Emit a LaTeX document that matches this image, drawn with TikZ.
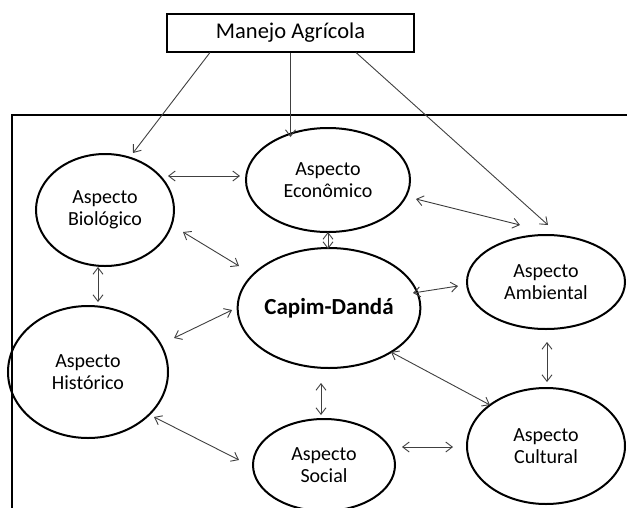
\documentclass[tikz,border=0pt]{standalone}
\usepackage{fontspec}
\setmainfont{Carlito}
\usetikzlibrary{shapes.geometric,arrows.meta}
\begin{document}
\begin{tikzpicture}[x=1pt,y=-1pt,
  asp/.style={ellipse, draw, line width=2pt, inner sep=0pt, align=center,
    font=\fontsize{20}{22.5}\selectfont},
  topbox/.style={draw, line width=2pt, inner sep=0pt,
    font=\fontsize{22.5}{26}\selectfont},
  tipb/.tip={Straight Barb[length=6.5pt,width=10pt]},
  link/.style={draw=black!75, line width=0.9pt, tipb-tipb},
  feed/.style={draw=black!75, line width=0.9pt, -tipb}]
\clip (0,0) rectangle (627,507);
\fill[white] (0,0) rectangle (627,507);
% frame
\draw[line width=2pt] (12,540) -- (12,115) -- (660,115);
% nodes
\node[topbox, minimum width=247pt, minimum height=38pt] (man) at (290.5,32.5) {Manejo Agrícola};
\node[asp, minimum width=138pt, minimum height=112pt] (bio) at (105,210) {Aspecto\\Biológico};
\node[asp, minimum width=164pt, minimum height=104pt] (eco) at (328,180) {Aspecto\\Econômico};
\node[asp, minimum width=172pt, minimum height=120pt, font=\bfseries\fontsize{23}{26}\selectfont] (cap) at (329,308) {Capim-Dandá};
\node[asp, minimum width=158pt, minimum height=94pt] (amb) at (546,282) {Aspecto\\Ambiental};
\node[asp, minimum width=160pt, minimum height=132pt] (his) at (88,372) {Aspecto\\Histórico};
\node[asp, minimum width=142pt, minimum height=92pt] (soc) at (324,465) {Aspecto\\Social};
\node[asp, minimum width=158pt, minimum height=116pt] (cul) at (546,446) {Aspecto\\Cultural};
% arrow end points
\coordinate (mb) at (133,153);
\coordinate (me) at (290.5,137);
\coordinate (ma) at (548,225);
\coordinate (be1) at (168,176);  \coordinate (be2) at (240,176);
\coordinate (ea1) at (416,199);  \coordinate (ea2) at (520,225);
\coordinate (ec1) at (328,232);  \coordinate (ec2) at (328,249);
\coordinate (bc1) at (183,232);  \coordinate (bc2) at (239,266);
\coordinate (bh1) at (98,267);   \coordinate (bh2) at (98,302);
\coordinate (hc1) at (174,338);  \coordinate (hc2) at (232,310);
\coordinate (ca1) at (413,293);  \coordinate (ca2) at (458,286);
\coordinate (ac1) at (547,342);  \coordinate (ac2) at (547,382);
\coordinate (cc1) at (391,352);  \coordinate (cc2) at (490,405);
\coordinate (cs1) at (321,383);  \coordinate (cs2) at (321,415);
\coordinate (hs1) at (154,417);  \coordinate (hs2) at (239,460);
\coordinate (sc1) at (402,447);  \coordinate (sc2) at (453,447);
% connectors from Manejo Agrícola
\draw[feed] ([xshift=-80.5pt]man.south) -- (mb);
\draw[feed] (man.south) -- (me);
\draw[feed] ([xshift=65.5pt]man.south) -- (ma);
% two-way connectors
\draw[link] (be1) -- (be2);
\draw[link] (ea1) -- (ea2);
\draw[link] (ec1) -- (ec2);
\draw[link] (bc1) -- (bc2);
\draw[link] (bh1) -- (bh2);
\draw[link] (hc1) -- (hc2);
\draw[link] (ca1) -- (ca2);
\draw[link] (ac1) -- (ac2);
\draw[link] (cc1) -- (cc2);
\draw[link] (cs1) -- (cs2);
\draw[link] (hs1) -- (hs2);
\draw[link] (sc1) -- (sc2);
\end{tikzpicture}
\end{document}
